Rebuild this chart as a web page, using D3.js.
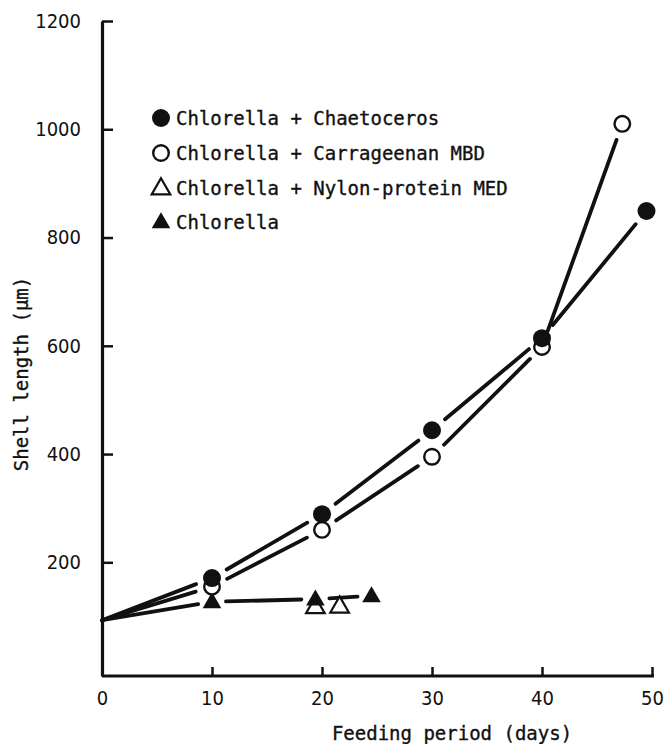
<!DOCTYPE html>
<html><head><meta charset="utf-8">
<script src="https://cdn.jsdelivr.net/npm/d3@7"></script>
<style>body{margin:0;background:#fff}svg{display:block}</style>
</head><body>
<script>
// Data
const seriesNames = ["Chlorella + Chaetoceros","Chlorella + Carrageenan MBD","Chlorella + Nylon-protein MED","Chlorella"];
const chaetocerosDays = [0,10,20,30,40,49.5];
const chaetocerosLen  = [93,171,289,444,614,849];
const carrageenanDays = [0,10,20,30,40,47.3];
const carrageenanLen  = [93,155,260,395,598,1010];
const nylonDays = [19.4,21.6];
const nylonLen  = [118,119];
const chlorellaDays = [0,10,19.4,24.5];
const chlorellaLen  = [93,127,132,138];
const xTicks = [0,10,20,30,40,50];
const yTicks = [200,400,600,800,1000,1200];
const xTitle = "Feeding period (days)";
const yTitle = "Shell length (\u03bcm)";

const W=666,H=744, ink="#111";
const font = "'DejaVu Sans Mono', monospace";
const tickFont = "'DejaVu Sans Condensed', 'DejaVu Sans', sans-serif";
const svg = d3.select("body").append("svg").attr("width",W).attr("height",H);
const x = d3.scaleLinear().domain([0,50]).range([102,652]);
const y = d3.scaleLinear().domain([-10,1200]).range([676,21]);

function styleText(sel){ sel.style("font-family",font).style("font-size","19px").attr("fill",ink).attr("stroke",ink).attr("stroke-width",0.35); }

// axes
const gx = svg.append("g").attr("transform",`translate(0,${y(-10)})`)
  .call(d3.axisBottom(x).tickValues(xTicks).tickFormat(d3.format("d")).tickSizeInner(-9).tickSizeOuter(0).tickPadding(15));
const gy = svg.append("g").attr("transform",`translate(${x(0)},0)`)
  .call(d3.axisLeft(y).tickValues(yTicks).tickFormat(d3.format("d")).tickSizeInner(-11).tickSizeOuter(0).tickPadding(21));
[gx,gy].forEach(g=>{
  g.select(".domain").attr("stroke",ink).attr("stroke-width",3.2);
  g.selectAll(".tick line").attr("stroke",ink).attr("stroke-width",2.5);
  g.selectAll(".tick text").attr("fill",ink).style("font-family",tickFont).style("font-stretch","condensed").style("font-size","20px");
});
gx.selectAll(".tick").filter(d=>d===0).select("line").remove();
gx.select(".domain").attr("d",`M${x(0)},0H${x(50)+2}`);

// titles
svg.append("text").attr("x",452).attr("y",740).attr("text-anchor","middle").call(styleText).text(xTitle);
svg.append("text").attr("transform","translate(28,374) rotate(-90)").attr("text-anchor","middle").call(styleText).text(yTitle);

// broken lines
function brokenLine(days, vals, gap){
  const pts = days.map((d,i)=>[x(d),y(vals[i])]);
  const g = svg.append("g");
  for(let i=0;i<pts.length-1;i++){
    const [x1,y1]=pts[i],[x2,y2]=pts[i+1];
    const L=Math.hypot(x2-x1,y2-y1), ux=(x2-x1)/L, uy=(y2-y1)/L;
    const g1 = days[i]===0?0:gap, g2=gap;
    if(L<=g1+g2) continue;
    g.append("line").attr("x1",x1+ux*g1).attr("y1",y1+uy*g1)
      .attr("x2",x2-ux*g2).attr("y2",y2-uy*g2)
      .attr("stroke",ink).attr("stroke-width",3.8).attr("stroke-linecap","round");
  }
}
brokenLine(chaetocerosDays,chaetocerosLen,17);
brokenLine(carrageenanDays,carrageenanLen,17);
brokenLine(chlorellaDays,chlorellaLen,14);

// markers
const tri = d3.symbol().type(d3.symbolTriangle).size(150);
function markers(days, vals, kind){
  const g=svg.append("g");
  days.forEach((d,i)=>drawMarker(g,x(d),y(vals[i]),kind));
}
function drawMarker(g,cx,cy,kind){
  if(kind==="fc") g.append("circle").attr("cx",cx).attr("cy",cy).attr("r",9).attr("fill",ink);
  else if(kind==="oc") g.append("circle").attr("cx",cx).attr("cy",cy).attr("r",7.8).attr("fill","#fff").attr("stroke",ink).attr("stroke-width",2.4);
  else if(kind==="ot") g.append("path").attr("d",tri).attr("transform",`translate(${cx},${cy+1})`).attr("fill","#fff").attr("stroke",ink).attr("stroke-width",2.2);
  else g.append("path").attr("d",tri).attr("transform",`translate(${cx},${cy+1})`).attr("fill",ink);
}
markers(nylonDays,nylonLen,"ot");
markers(chlorellaDays.slice(1),chlorellaLen.slice(1),"ft");
markers(carrageenanDays.slice(1),carrageenanLen.slice(1),"oc");
markers(chaetocerosDays.slice(1),chaetocerosLen.slice(1),"fc");

// legend
const kinds=["fc","oc","ot","ft"], rowY=[118,153,188,222];
const lg=svg.append("g");
seriesNames.forEach((n,i)=>{
  drawMarker(lg,161,rowY[i],kinds[i]);
  lg.append("text").attr("x",176).attr("y",rowY[i]+7).call(styleText).text(n);
});
</script>
</body></html>
